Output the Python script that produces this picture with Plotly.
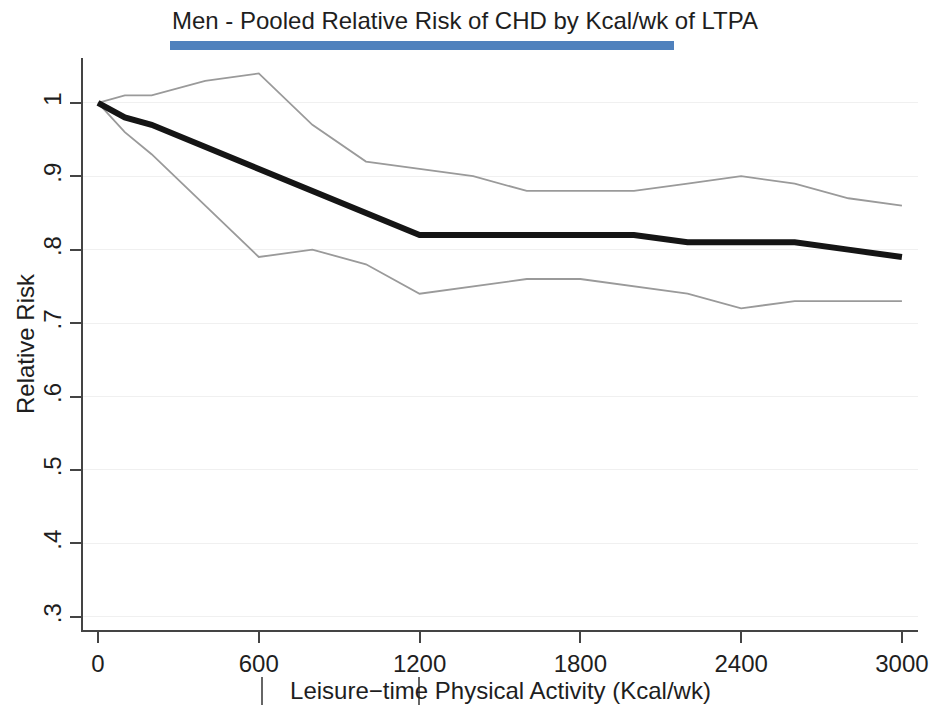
import plotly.graph_objects as go

# Leisure-time physical activity (kcal/week)
kcal = [0, 100, 200, 400, 600, 800, 1000, 1200, 1400, 1600, 1800, 2000, 2200, 2400, 2600, 2800, 3000]
# Pooled relative risk and its confidence bounds
rr = [1.00, 0.98, 0.97, 0.94, 0.91, 0.88, 0.85, 0.82, 0.82, 0.82, 0.82, 0.82, 0.81, 0.81, 0.81, 0.80, 0.79]
rr_upper = [1.00, 1.01, 1.01, 1.03, 1.04, 0.97, 0.92, 0.91, 0.90, 0.88, 0.88, 0.88, 0.89, 0.90, 0.89, 0.87, 0.86]
rr_lower = [1.00, 0.96, 0.93, 0.86, 0.79, 0.80, 0.78, 0.74, 0.75, 0.76, 0.76, 0.75, 0.74, 0.72, 0.73, 0.73, 0.73]

x_ticks = [0, 600, 1200, 1800, 2400, 3000]
y_ticks = [0.3, 0.4, 0.5, 0.6, 0.7, 0.8, 0.9, 1.0]
y_tick_text = [".3", ".4", ".5", ".6", ".7", ".8", ".9", "1"]

FONT = "Liberation Sans, Arial, Helvetica, sans-serif"
TXT = "#1e1e1e"

fig = go.Figure()
for bound in (rr_upper, rr_lower):
    fig.add_trace(go.Scatter(x=kcal, y=bound, mode="lines",
                             line=dict(color="#9a9a9a", width=1.8),
                             hoverinfo="skip", showlegend=False))
fig.add_trace(go.Scatter(x=kcal, y=rr, mode="lines",
                         line=dict(color="#151515", width=6),
                         showlegend=False))

fig.update_layout(
    width=930, height=705,
    margin=dict(l=83, r=12, t=58, b=75),
    paper_bgcolor="white", plot_bgcolor="white",
    font=dict(family=FONT, color=TXT),
    title=dict(text="Men - Pooled Relative Risk of CHD by Kcal/wk of LTPA",
               x=0.5, xanchor="center", y=0.971, yanchor="middle",
               font=dict(size=24, color=TXT)),
    xaxis=dict(range=[-56, 3060], tickvals=x_ticks, automargin=False,
               showgrid=False, zeroline=False,
               showline=True, linecolor="#444444", linewidth=1.5,
               ticks="outside", ticklen=11, tickwidth=1.5, tickcolor="#444444",
               tickfont=dict(size=24, color=TXT),
               title=dict(text="Leisure\u2212time Physical Activity (Kcal/wk)",
                          font=dict(size=24, color=TXT), standoff=4)),
    yaxis=dict(range=[0.282, 1.061], tickvals=y_ticks, ticktext=y_tick_text,
               tickangle=-90, automargin=False,
               showgrid=True, gridcolor="#f0f0f0", gridwidth=1, zeroline=False,
               showline=True, linecolor="#444444", linewidth=1.5,
               ticks="outside", ticklen=11, tickwidth=1.5, tickcolor="#444444",
               tickfont=dict(size=24, color=TXT)),
)

# Vertical axis title
fig.add_annotation(text="Relative Risk", xref="paper", yref="paper",
                   x=(25 - 83) / 835, y=0.5, xanchor="center", yanchor="middle",
                   textangle=-90, showarrow=False,
                   font=dict(size=24, color=TXT, family=FONT))

# Blue underline beneath the heading
fig.add_shape(type="rect", xref="paper", yref="paper",
              x0=(170 - 83) / 835, x1=(674 - 83) / 835,
              y0=(630 - 50) / 572, y1=(630 - 41) / 572,
              fillcolor="#4f81bd", line=dict(width=0), layer="above")
# Short vertical marks below the axis title area
for px in (262, 419):
    fig.add_shape(type="line", xref="paper", yref="paper",
                  x0=(px - 83) / 835, x1=(px - 83) / 835,
                  y0=(630 - 677) / 572, y1=(630 - 705) / 572,
                  line=dict(color="#666666", width=2), layer="above")

fig.write_html("out.html")
